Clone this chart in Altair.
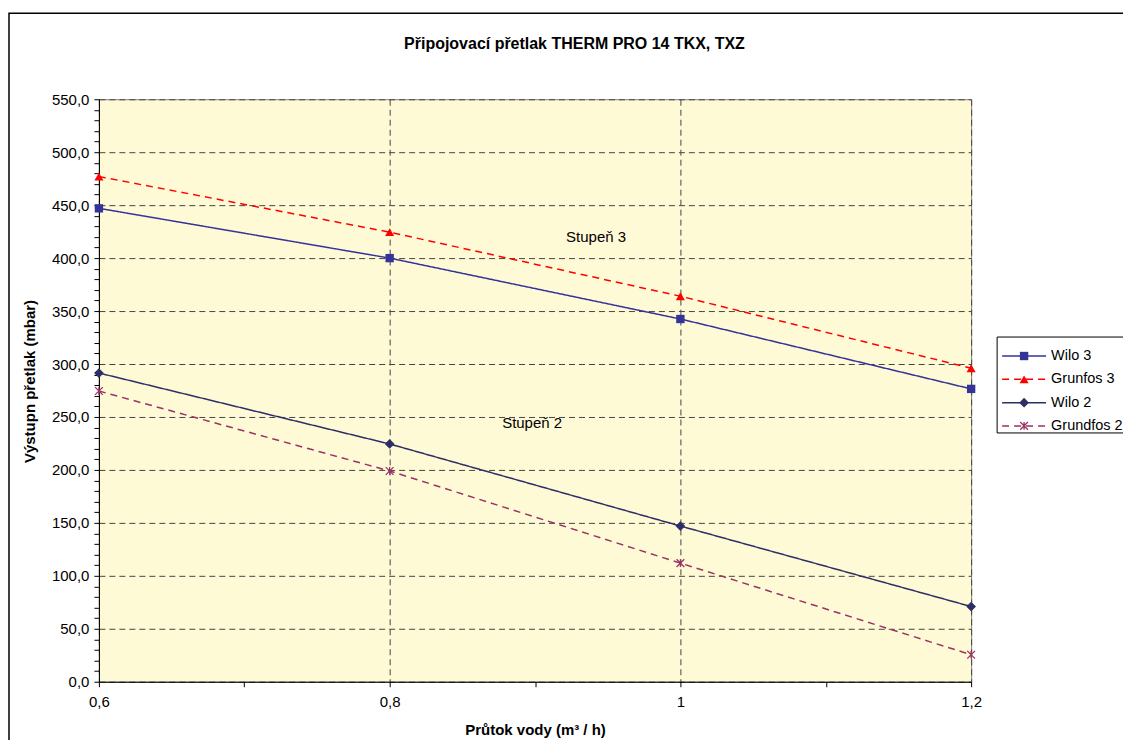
import altair as alt
import pandas as pd

flow = [0.6, 0.8, 1.0, 1.2]
series_names = ["Wilo 3", "Grunfos 3", "Wilo 2", "Grundfos 2"]
wilo3 = [447.0, 400.0, 342.5, 276.5]
grunfos3 = [477.0, 424.5, 364.0, 296.0]
wilo2 = [291.5, 224.5, 147.0, 71.0]
grundfos2 = [274.5, 199.0, 112.0, 25.5]
colors = ["#333399", "#FF0000", "#2E2E66", "#993366"]
dashes = [[1, 0], [7, 5], [1, 0], [7, 5]]

chart_title = "Připojovací přetlak THERM PRO 14 TKX, TXZ"
ann_text = ["Stupeň 3", "Stupeň 2"]
ann_x = [0.942, 0.898]
ann_y = [420.0, 244.0]

rows = []
for name, vals in zip(series_names, [wilo3, grunfos3, wilo2, grundfos2]):
    for f, v in zip(flow, vals):
        rows.append({"flow": f, "value": v, "series": name})
df = pd.DataFrame(rows)
ann = pd.DataFrame({"text": ann_text, "x": ann_x, "y": ann_y})
leg = pd.DataFrame({"series": series_names})

FONT = "Liberation Sans"
xvals = [0.6, 0.7, 0.8, 0.9, 1.0, 1.1, 1.2]
yvals = list(range(0, 551, 10))

xscale = alt.Scale(domain=[0.6, 1.2], nice=False, zero=False)
yscale = alt.Scale(domain=[0, 550], nice=False)

xaxis = alt.Axis(
    values=xvals,
    labelExpr="round(datum.value*10) % 2 == 0 ? replace(format(datum.value, '.1~f'), '.', ',') : ''",
    gridOpacity=alt.condition("round(datum.value*10) % 2 == 0", alt.value(1), alt.value(0)),
    grid=True, gridColor="#444444", gridDash=[6, 4], gridWidth=1,
    domainColor="#000000", tickColor="#000000", tickSize=5,
    labelFont=FONT, labelFontSize=15, labelColor="#000000", labelPadding=8,
    labelFlush=False,
    title="Průtok vody (m³ / h)", titleFont=FONT, titleFontSize=15, titleFontWeight="bold",
    titleColor="#000000", titleY=53, titleBaseline="alphabetic",
)
yaxis = alt.Axis(
    values=yvals,
    labelExpr="datum.value % 50 == 0 ? replace(format(datum.value, '.1f'), '.', ',') : ''",
    gridOpacity=alt.condition("datum.value % 50 == 0", alt.value(1), alt.value(0)),
    grid=True, gridColor="#444444", gridDash=[6, 4], gridWidth=1,
    domainColor="#000000", tickColor="#000000", tickSize=5,
    labelFont=FONT, labelFontSize=15, labelColor="#000000", labelPadding=5,
    title="Výstupn přetlak (mbar)", titleFont=FONT, titleFontSize=15, titleFontWeight="bold",
    titleColor="#000000", titleX=-64, titleY=282, titleAngle=-90, titleBaseline="alphabetic",
    titleAlign="center",
)

color_scale = alt.Scale(domain=series_names, range=colors)
dash_scale = alt.Scale(domain=series_names, range=dashes)
shape_scale = alt.Scale(domain=series_names[:3], range=["square", "triangle-up", "diamond"])
size_scale = alt.Scale(domain=series_names[:3], range=[70, 95, 75])
CROSS = "M-1,-1L1,1M-1,1L1,-1M0,-1L0,1"

X = alt.X("flow:Q", scale=xscale, axis=xaxis)
Y = alt.Y("value:Q", scale=yscale, axis=yaxis)
Yn = alt.Y("value:Q", scale=yscale, axis=None)

lines = alt.Chart(df).mark_line(strokeWidth=1.5).encode(
    x=X, y=Y,
    color=alt.Color("series:N", scale=color_scale, legend=None),
    strokeDash=alt.StrokeDash("series:N", scale=dash_scale, legend=None),
)

first3 = alt.FieldOneOfPredicate(field="series", oneOf=series_names[:3])
last1 = alt.FieldEqualPredicate(field="series", equal=series_names[3])

filled = alt.Chart(df).transform_filter(first3).mark_point(filled=True, opacity=1).encode(
    x=X, y=Yn,
    color=alt.Color("series:N", scale=color_scale, legend=None),
    shape=alt.Shape("series:N", scale=shape_scale, legend=None),
    size=alt.Size("series:N", scale=size_scale, legend=None),
)

cross = alt.Chart(df).transform_filter(last1).mark_point(
    shape=CROSS, filled=False, size=60, strokeWidth=1.3, opacity=1
).encode(
    x=X, y=Yn,
    color=alt.Color("series:N", scale=color_scale, legend=None),
)

texts = alt.Chart(ann).mark_text(font=FONT, fontSize=15, color="#000000").encode(
    x=alt.X("x:Q", scale=xscale, axis=xaxis),
    y=alt.Y("y:Q", scale=yscale, axis=None),
    text="text:N",
)

frame = alt.Chart(pd.DataFrame({"a": [0]})).mark_rect(
    fill="transparent", stroke="#000000", strokeWidth=1.5
).encode(
    x=alt.value(-90), x2=alt.value(1040), y=alt.value(-86), y2=alt.value(665)
)

title_mark = alt.Chart(pd.DataFrame({"t": [chart_title]})).mark_text(
    font=FONT, fontSize=16, fontWeight="bold", color="#000000", align="center", baseline="middle"
).encode(
    x=alt.value(476), y=alt.value(-55), text="t:N"
)

# legend (drawn from the series names)
LY = alt.Y("series:O", scale=alt.Scale(type="point", domain=series_names, range=[257, 327], padding=0),
           axis=None)
leg_box = alt.Chart(pd.DataFrame({"a": [0]})).mark_rect(
    fill="#FFFFFF", stroke="#000000", strokeWidth=1
).encode(
    x=alt.value(899), x2=alt.value(1040), y=alt.value(238), y2=alt.value(334)
)
leg_rule = alt.Chart(leg).mark_rule(strokeWidth=1.5).encode(
    x=alt.value(904), x2=alt.value(948), y=LY,
    color=alt.Color("series:N", scale=color_scale, legend=None),
    strokeDash=alt.StrokeDash("series:N", scale=dash_scale, legend=None),
)
leg_filled = alt.Chart(leg).transform_filter(first3).mark_point(filled=True, opacity=1).encode(
    x=alt.value(926), y=LY,
    color=alt.Color("series:N", scale=color_scale, legend=None),
    shape=alt.Shape("series:N", scale=shape_scale, legend=None),
    size=alt.Size("series:N", scale=size_scale, legend=None),
)
leg_cross = alt.Chart(leg).transform_filter(last1).mark_point(
    shape=CROSS, filled=False, size=60, strokeWidth=1.3, opacity=1
).encode(
    x=alt.value(926), y=LY,
    color=alt.Color("series:N", scale=color_scale, legend=None),
)
leg_text = alt.Chart(leg).mark_text(
    font=FONT, fontSize=14.5, color="#000000", align="left", baseline="middle"
).encode(
    x=alt.value(953), y=LY, text="series:N",
)

chart = alt.layer(
    frame, title_mark, lines, filled, cross, texts, leg_box, leg_rule, leg_filled, leg_cross, leg_text
).resolve_scale(y="independent").properties(
    width=873, height=583,
    padding={"left": 91, "top": 91, "right": 152, "bottom": 58},
    autosize=alt.AutoSizeParams(type="none"),
).configure_view(
    fill="#FFFAD6", stroke="#808080", strokeWidth=1
)

chart.save("out.html", embed_options={"renderer": "svg", "actions": False})
